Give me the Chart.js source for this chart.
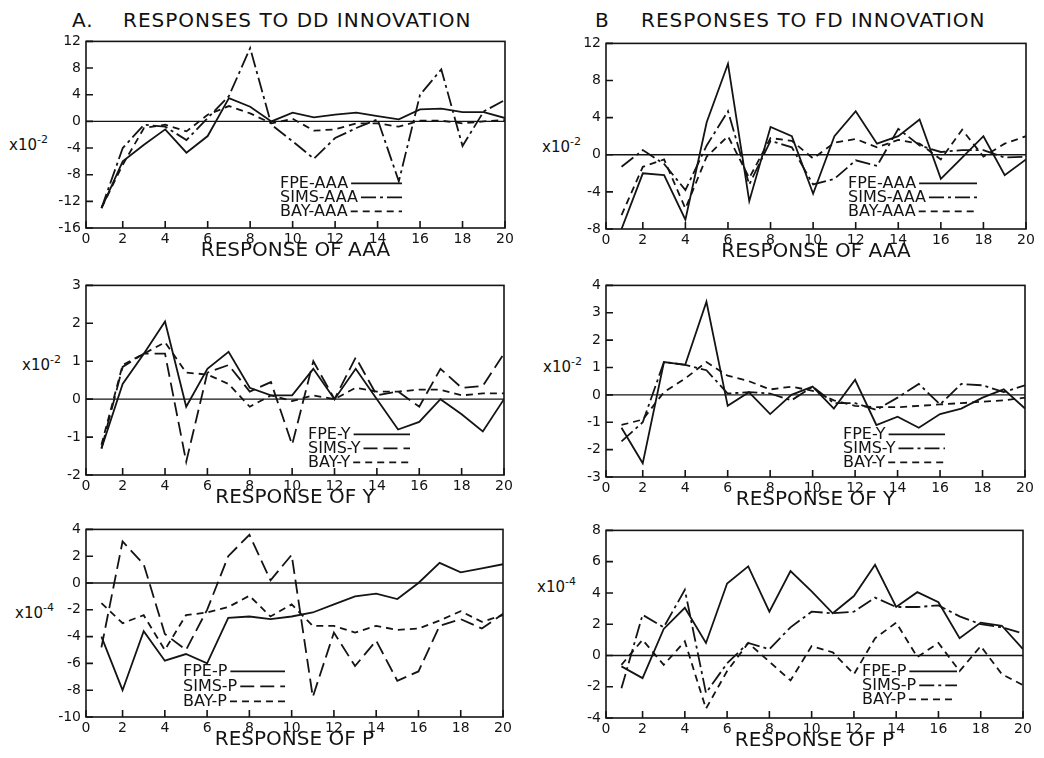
<!DOCTYPE html>
<html>
<head>
<meta charset="utf-8">
<script src="https://cdn.jsdelivr.net/npm/chart.js@4.4.1/dist/chart.umd.min.js"></script>
<style>
  body { margin: 0; background: #fff; width: 1044px; height: 758px; position: relative; overflow: hidden;
         font-family: "DejaVu Sans", sans-serif; color: #111; }
  canvas { position: absolute; }
  .head { position: absolute; font-size: 20px; letter-spacing: 1px; white-space: nowrap; }
  .ylab { position: absolute; font-size: 15px; line-height: 18px; white-space: nowrap; }
  .ylab sup { font-size: 11px; vertical-align: 7px; line-height: 0; }
</style>
</head>
<body>
<div class="head" style="left:72px;top:8px">A.</div>
<div class="head" style="left:123px;top:8px">RESPONSES TO DD INNOVATION</div>
<div class="head" style="left:595px;top:8px">B</div>
<div class="head" style="left:641px;top:8px">RESPONSES TO FD INNOVATION</div>

<div class="ylab" style="left:9px;top:136px">x10<sup>-2</sup></div>
<div class="ylab" style="left:542px;top:138px">x10<sup>-2</sup></div>
<div class="ylab" style="left:22px;top:356px">x10<sup>-2</sup></div>
<div class="ylab" style="left:543px;top:358px">x10<sup>-2</sup></div>
<div class="ylab" style="left:15px;top:604px">x10<sup>-4</sup></div>
<div class="ylab" style="left:537px;top:578px">x10<sup>-4</sup></div>

<canvas id="a1"></canvas>
<canvas id="b1"></canvas>
<canvas id="a2"></canvas>
<canvas id="b2"></canvas>
<canvas id="a3"></canvas>
<canvas id="b3"></canvas>

<script>
// lags (months after the innovation)
const lags = [1, 2, 3, 4, 5, 6, 7, 8, 9, 10, 11, 12, 13, 14, 15, 16, 17, 18, 19, 20];
const xTickLabels = ["0", "2", "4", "6", "8", "10", "12", "14", "16", "18", "20"];

// A. responses to DD innovation
const fpeAAA_dd  = [-13, -6, -3.5, -1.2, -4.7, -2.2, 3.5, 2.2, 0, 1.3, 0.6, 1.0, 1.3, 0.8, 0.3, 1.8, 1.9, 1.4, 1.4, 0.5];
const simsAAA_dd = [-13, -4, -0.5, -0.8, -2.8, 0.5, 3.8, 11, -0.5, -3, -5.6, -2.5, -1, 0.3, -9, 4, 7.8, -3.7, 1.5, 3.2];
const bayAAA_dd  = [-13, -6.5, -1, -0.5, -1.5, 1, 2.3, 1.2, -0.3, 0.4, -1.4, -1.2, -0.3, -0.3, -0.8, 0.1, 0.1, -0.3, 0, 0.2];

const fpeY_dd  = [-1.3, 0.4, 1.2, 2.05, -0.2, 0.8, 1.25, 0.3, 0.1, 0.1, 0.8, 0, 0.8, 0, -0.8, -0.6, 0, -0.4, -0.85, 0];
const simsY_dd = [-1.3, 0.85, 1.2, 1.2, -1.65, 0.7, 0.9, 0.2, 0.45, -1.2, 1.0, 0, 1.1, 0.1, 0.2, -0.2, 0.8, 0.3, 0.35, 1.2];
const bayY_dd  = [-1.2, 0.9, 1.2, 1.5, 0.7, 0.65, 0.4, -0.2, 0.1, -0.05, 0.1, 0, 0.3, 0.2, 0.2, 0.25, 0.25, 0.1, 0.15, 0.15];

const fpeP_dd  = [-4, -8, -3.6, -5.8, -5.3, -6, -2.6, -2.5, -2.7, -2.5, -2.2, -1.6, -1, -0.8, -1.2, 0, 1.5, 0.8, 1.1, 1.4];
const simsP_dd = [-4.8, 3.1, 1.4, -3.8, -5, -2, 2, 3.6, 0.2, 2.1, -8.5, -3.7, -6.2, -4.3, -7.3, -6.6, -3.2, -2.7, -3.4, -2.3];
const bayP_dd  = [-1.5, -3, -2.4, -5, -2.4, -2.2, -1.8, -0.95, -2.5, -1.6, -3.2, -3.2, -3.7, -3.2, -3.5, -3.4, -2.8, -2.1, -2.9, -2.4];

// B. responses to FD innovation
const fpeAAA_fd  = [-8, -2, -2.2, -7, 3.5, 9.8, -5, 3, 2, -4.2, 2, 4.7, 1.2, 2, 3.8, -2.6, -0.3, 2, -2.2, -0.5];
const simsAAA_fd = [-1.3, 0.5, -1, -3.8, 1, 4.7, -3.2, 1.5, 0.8, -3.2, -2.6, -0.6, -1.2, 2.8, 1, 0.3, 0.5, 0.5, -0.3, -0.2];
const bayAAA_fd  = [-6.5, -1.3, -0.5, -5.8, -0.2, 2, -2.5, 1.8, 1.5, -0.4, 1.3, 1.7, 0.8, 1.6, 1.2, -0.5, 2.7, -0.2, 1.2, 2];

const fpeY_fd  = [-1.2, -2.5, 1.2, 1.1, 3.4, -0.4, 0.1, -0.7, 0, 0.3, -0.5, 0.55, -1.1, -0.8, -1.2, -0.7, -0.5, -0.1, 0.2, -0.5];
const simsY_fd = [-1.7, -1, 1.2, 1.1, 0.9, 0.05, 0.1, 0.05, -0.2, 0.3, -0.3, -0.3, -0.55, -0.1, 0.4, -0.35, 0.4, 0.35, 0.1, 0.35];
const bayY_fd  = [-1.1, -0.9, 0.1, 0.6, 1.2, 0.7, 0.5, 0.2, 0.3, 0.15, -0.2, -0.4, -0.45, -0.45, -0.4, -0.35, -0.3, -0.25, -0.2, -0.1];

const fpeP_fd  = [-0.7, -1.45, 1.7, 3.05, 0.8, 4.6, 5.7, 2.8, 5.4, 4.1, 2.7, 3.8, 5.8, 3.1, 4.05, 3.4, 1.1, 2.1, 1.9, 0.4];
const simsP_fd = [-2.1, 2.6, 1.8, 4.2, -2.4, -0.5, 0.8, 0.4, 1.8, 2.8, 2.7, 2.8, 3.7, 3.1, 3.1, 3.2, 2.5, 2.0, 1.8, 1.4];
const bayP_fd  = [-0.6, 1.0, -0.6, 0.9, -3.4, -1.0, 0.8, -0.4, -1.6, 0.6, 0.2, -1.2, 1.1, 2.1, -0.1, 0.8, -1.0, 0.6, -1.2, -1.9];

const ink = "#141414";
const SOLID = [], DASHDOT = [15, 4, 3, 4], SHORT = [7, 5], LONG = [14, 6];
const xStart = 0.27; // the drawn axis box starts a little right of lag 0

Chart.defaults.font.family = '"DejaVu Sans", sans-serif';
Chart.defaults.color = ink;

// frame, zero line, inward tick marks and in-plot legend
const framePlugin = {
  id: "frame",
  beforeDatasetsDraw(chart) {
    const { ctx, chartArea: a, scales: { y } } = chart;
    const y0 = y.getPixelForValue(0);
    ctx.save();
    ctx.strokeStyle = ink;
    ctx.lineWidth = 1.4;
    ctx.beginPath();
    ctx.moveTo(a.left, y0);
    ctx.lineTo(a.right, y0);
    ctx.stroke();
    ctx.restore();
  },
  afterDatasetsDraw(chart, args, opts) {
    const { ctx, chartArea: a, scales: { x, y } } = chart;
    ctx.save();
    ctx.strokeStyle = ink;
    ctx.lineWidth = 1.6;
    ctx.strokeRect(a.left, a.top, a.right - a.left, a.bottom - a.top);
    ctx.beginPath();
    x.ticks.forEach(t => {
      const px = x.getPixelForValue(t.value);
      ctx.moveTo(px, a.bottom);
      ctx.lineTo(px, a.bottom - 7);
    });
    y.ticks.forEach(t => {
      const py = y.getPixelForValue(t.value);
      ctx.moveTo(a.left, py);
      ctx.lineTo(a.left + 7, py);
    });
    ctx.stroke();

    // legend
    ctx.font = '16px "DejaVu Sans", sans-serif';
    ctx.fillStyle = ink;
    ctx.textBaseline = "middle";
    chart.data.datasets.forEach((ds, i) => {
      const tx = a.left + opts.dx;
      const ty = a.top + opts.dy + i * opts.gap;
      ctx.fillText(ds.label, tx, ty);
      const w = ctx.measureText(ds.label).width;
      ctx.setLineDash(ds.borderDash);
      ctx.lineWidth = 1.8;
      ctx.beginPath();
      ctx.moveTo(tx + w + 3, ty);
      ctx.lineTo(a.left + opts.end, ty);
      ctx.stroke();
      ctx.setLineDash([]);
    });
    ctx.restore();
  }
};

function makePanel(id, box, yr, xTitle, names, series, dashes, legend) {
  const [l, t, r, b] = box;
  const padL = 50, padT = 12, padR = 16, padB = 35;
  const cv = document.getElementById(id);
  cv.width = r - l + padL + padR;
  cv.height = b - t + padT + padB;
  cv.style.left = (l - padL) + "px";
  cv.style.top = (t - padT) + "px";

  new Chart(cv.getContext("2d"), {
    type: "line",
    data: {
      datasets: series.map((vals, i) => ({
        label: names[i],
        data: lags.map((lag, k) => ({ x: lag, y: vals[k] })),
        borderColor: ink,
        borderWidth: 1.8,
        borderDash: dashes[i],
        pointRadius: 0,
        tension: 0,
        fill: false
      }))
    },
    options: {
      responsive: false,
      animation: false,
      events: [],
      layout: { padding: { top: padT, right: padR, left: 0, bottom: 0 } },
      plugins: {
        legend: { display: false },
        tooltip: { enabled: false },
        frame: legend
      },
      scales: {
        x: {
          type: "linear",
          min: xStart,
          max: 20,
          afterBuildTicks(s) {
            s.ticks = xTickLabels.map((lab, i) => ({ value: i === 0 ? xStart : Number(lab) }));
          },
          ticks: {
            padding: 3, maxRotation: 0, autoSkip: false, font: { size: 14 },
            callback: (v, i) => xTickLabels[i]
          },
          grid: { display: false, drawTicks: false },
          border: { display: false },
          title: { display: true, text: xTitle, padding: 0, font: { size: 20 } },
          afterFit(s) { s.height = padB; }
        },
        y: {
          min: yr[0],
          max: yr[1],
          ticks: { stepSize: yr[2], padding: 5, font: { size: 14 } },
          grid: { display: false, drawTicks: false },
          border: { display: false },
          afterFit(s) { s.width = padL; }
        }
      }
    },
    plugins: [framePlugin]
  });
}

makePanel("a1", [86, 40, 505, 228], [-16, 12, 4], "RESPONSE OF AAA",
  ["FPE-AAA", "SIMS-AAA", "BAY-AAA"], [fpeAAA_dd, simsAAA_dd, bayAAA_dd],
  [SOLID, DASHDOT, SHORT], { dx: 194, dy: 142, gap: 14, end: 316 });

makePanel("b1", [606, 42, 1026, 229], [-8, 12, 4], "RESPONSE OF AAA",
  ["FPE-AAA", "SIMS-AAA", "BAY-AAA"], [fpeAAA_fd, simsAAA_fd, bayAAA_fd],
  [SOLID, DASHDOT, SHORT], { dx: 242, dy: 140, gap: 14, end: 371 });

makePanel("a2", [86, 284, 504, 475], [-2, 3, 1], "RESPONSE OF Y",
  ["FPE-Y", "SIMS-Y", "BAY-Y"], [fpeY_dd, simsY_dd, bayY_dd],
  [SOLID, LONG, SHORT], { dx: 222, dy: 149, gap: 14, end: 324 });

makePanel("b2", [606, 284, 1025, 477], [-3, 4, 1], "RESPONSE OF Y",
  ["FPE-Y", "SIMS-Y", "BAY-Y"], [fpeY_fd, simsY_fd, bayY_fd],
  [SOLID, DASHDOT, SHORT], { dx: 237, dy: 149, gap: 14, end: 339 });

makePanel("a3", [86, 528, 503, 717], [-10, 4, 2], "RESPONSE OF P",
  ["FPE-P", "SIMS-P", "BAY-P"], [fpeP_dd, simsP_dd, bayP_dd],
  [SOLID, LONG, SHORT], { dx: 97, dy: 142, gap: 15, end: 199 });

makePanel("b3", [606, 529, 1023, 718], [-4, 8, 2], "RESPONSE OF P",
  ["FPE-P", "SIMS-P", "BAY-P"], [fpeP_fd, simsP_fd, bayP_fd],
  [SOLID, DASHDOT, SHORT], { dx: 256, dy: 141, gap: 14, end: 351 });
</script>
</body>
</html>
